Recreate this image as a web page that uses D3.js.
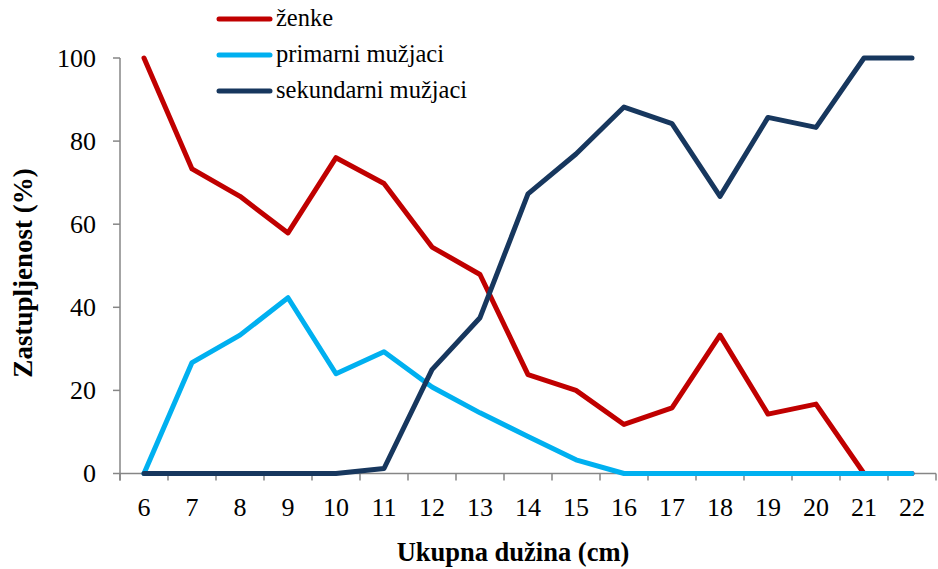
<!DOCTYPE html>
<html>
<head>
<meta charset="utf-8">
<script src="https://cdn.jsdelivr.net/npm/d3@7"></script>
<style>
  body { margin: 0; background: #fff; }
</style>
</head>
<body>
<div id="chart"></div>
<script>
const categories = ['6','7','8','9','10','11','12','13','14','15','16','17','18','19','20','21','22']
const zenke      = [100, 73.3, 66.7, 57.9, 76.0, 69.8, 54.5, 47.9, 23.8, 20.0, 11.8, 15.8, 33.3, 14.3, 16.7, 0, 0]
const primarni   = [0, 26.7, 33.3, 42.3, 24.0, 29.3, 20.8, 14.6, 8.9, 3.3, 0, 0, 0, 0, 0, 0, 0]
const sekundarni = [0, 0, 0, 0, 0, 1.2, 25.0, 37.5, 67.3, 76.9, 88.2, 84.2, 66.7, 85.7, 83.3, 100, 100]
const yTicks = [0, 20, 40, 60, 80, 100]

const series = [
  { name: 'ženke', values: zenke, color: '#C00000' },
  { name: 'primarni mužjaci', values: primarni, color: '#00B0F0' },
  { name: 'sekundarni mužjaci', values: sekundarni, color: '#17375E' }
]

const width = 938
const height = 569
const margin = { top: 58, right: 2, bottom: 95, left: 120 }
const fontFamily = "'Liberation Serif', 'Times New Roman', 'DejaVu Serif', serif"

const svg = d3.select('#chart')
  .append('svg')
  .attr('width', width)
  .attr('height', height)
  .attr('font-family', fontFamily)
  .style('font-family', fontFamily)

const x = d3.scaleBand()
  .domain(categories)
  .range([margin.left, width - margin.right])

const y = d3.scaleLinear()
  .domain([0, 100])
  .range([height - margin.bottom - 0.5, margin.top])

const axisColor = '#868686'

// x axis: ticks on band boundaries
const xAxis = svg.append('g')
xAxis.append('line')
  .attr('x1', margin.left).attr('x2', width - margin.right)
  .attr('y1', y(0)).attr('y2', y(0))
  .attr('stroke', axisColor).attr('stroke-width', 1.5)
xAxis.selectAll('.xtick')
  .data(categories.concat(['end']))
  .enter().append('line')
  .attr('x1', (d, i) => margin.left + i * x.step())
  .attr('x2', (d, i) => margin.left + i * x.step())
  .attr('y1', y(0)).attr('y2', y(0) + 7)
  .attr('stroke', axisColor).attr('stroke-width', 1.5)
xAxis.selectAll('.xlabel')
  .data(categories)
  .enter().append('text')
  .attr('x', d => x(d) + x.bandwidth() / 2)
  .attr('y', y(0) + 42)
  .attr('text-anchor', 'middle')
  .attr('font-size', '26px')
  .text(d => d)

// y axis
const yAxis = svg.append('g')
yAxis.append('line')
  .attr('x1', margin.left).attr('x2', margin.left)
  .attr('y1', y(100)).attr('y2', y(0) + 7)
  .attr('stroke', axisColor).attr('stroke-width', 1.5)
yAxis.selectAll('.ytick')
  .data(yTicks)
  .enter().append('line')
  .attr('x1', margin.left - 7).attr('x2', margin.left)
  .attr('y1', d => y(d)).attr('y2', d => y(d))
  .attr('stroke', axisColor).attr('stroke-width', 1.5)
yAxis.selectAll('.ylabel')
  .data(yTicks)
  .enter().append('text')
  .attr('x', margin.left - 24)
  .attr('y', d => y(d))
  .attr('dy', '0.33em')
  .attr('text-anchor', 'end')
  .attr('font-size', '26px')
  .text(d => d)

// axis titles
svg.append('text')
  .attr('x', 513)
  .attr('y', 561)
  .attr('text-anchor', 'middle')
  .attr('font-size', '26.5px')
  .attr('font-weight', 'bold')
  .text('Ukupna dužina (cm)')

svg.append('text')
  .attr('transform', `translate(32, 273) rotate(-90)`)
  .attr('text-anchor', 'middle')
  .attr('font-size', '27px')
  .attr('font-weight', 'bold')
  .text('Zastupljenost (%)')

// lines
const line = d3.line()
  .x((d, i) => x(categories[i]) + x.bandwidth() / 2)
  .y(d => y(d))

svg.append('g')
  .selectAll('path')
  .data(series)
  .enter().append('path')
  .attr('d', d => line(d.values))
  .attr('fill', 'none')
  .attr('stroke', d => d.color)
  .attr('stroke-width', 5)
  .attr('stroke-linejoin', 'round')
  .attr('stroke-linecap', 'round')

// legend
const legend = svg.append('g')
  .selectAll('g')
  .data(series)
  .enter().append('g')
  .attr('transform', (d, i) => `translate(219, ${19 + i * 36})`)

legend.append('line')
  .attr('x1', 0).attr('x2', 51)
  .attr('stroke', d => d.color)
  .attr('stroke-width', 5)
  .attr('stroke-linecap', 'round')

legend.append('text')
  .attr('x', 57)
  .attr('dy', '0.3em')
  .attr('font-size', '24.5px')
  .text(d => d.name)
</script>
</body>
</html>
